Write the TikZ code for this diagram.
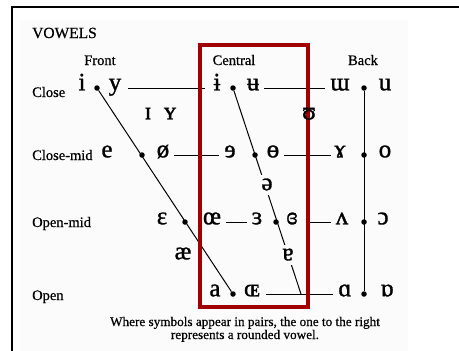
\documentclass[tikz,border=0pt]{standalone}
\usepackage{fontspec}
\setmainfont{Liberation Serif}
\newfontfamily\symfont[FakeBold=1.2]{Liberation Serif}
\newfontfamily\labfont[FakeBold=0.6]{Liberation Serif}
\definecolor{bgc}{RGB}{251,251,251}
\definecolor{boxred}{RGB}{160,0,0}
\begin{document}
\begin{tikzpicture}[x=1pt,y=-1pt,
  sym/.style={font=\symfont\fontsize{25}{27}\selectfont, inner sep=0pt, anchor=mid},
  lab/.style={font=\labfont\fontsize{14.5}{16}\selectfont, inner sep=0pt, anchor=base west},
  hdr/.style={font=\labfont\fontsize{14.5}{16}\selectfont, inner sep=0pt, anchor=base},
  captext/.style={font=\labfont\fontsize{13.2}{15}\selectfont, inner sep=0pt, anchor=base},
  dotnode/.style={circle, fill=black, inner sep=0pt, minimum size=5.5pt},
  link/.style={line width=1pt},
  gapsym/.style={sym, fill=bgc, inner sep=4pt}]
\useasboundingbox (0,0) rectangle (459,351);
\fill[bgc] (20,20) rectangle (408,351);
\draw[line width=1.5pt] (12,352) -- (12,7) -- (460,7);

% title and headers
\node[lab, font=\labfont\fontsize{15.5}{17}\selectfont] (title) at (32,38) {VOWELS};
\node[hdr] (front) at (100,65) {Front};
\node[hdr] (central) at (234,65) {Central};
\node[hdr] (back) at (363,65) {Back};

% row labels
\node[lab] (lclose) at (32,97) {Close};
\node[lab] (lclosemid) at (32,160) {Close-mid};
\node[lab] (lopenmid) at (32,227) {Open-mid};
\node[lab] (lopen) at (32,300) {Open};

% dots
\node[dotnode] (d1) at (97,88) {};
\node[dotnode] (d2) at (233,88) {};
\node[dotnode] (d3) at (364,88) {};
\node[dotnode] (d4) at (142,155) {};
\node[dotnode] (d5) at (255,155) {};
\node[dotnode] (d6) at (364,155) {};
\node[dotnode] (d7) at (185,222) {};
\node[dotnode] (d8) at (276,222) {};
\node[dotnode] (d9) at (364,222) {};
\node[dotnode] (d10) at (233,294) {};
\node[dotnode] (d11) at (364,294) {};
\coordinate (cend) at (301,294);

% symbols
\node[sym] (i) at (82,88) {i};
\node[sym] (y) at (115,88) {y};
\node[sym] (ibar) at (217,88) {ɨ};
\node[sym] (ubar) at (253,88) {ʉ};
\node[sym] (turnm) at (340,88) {ɯ};
\node[sym] (u) at (385,88) {u};
\node[sym] (smi) at (148,117) {ɪ};
\node[sym] (smy) at (170,117) {ʏ};
\node[sym] (e) at (107,155) {e};
\node[sym] (oslash) at (163,155) {ø};
\node[sym] (reve) at (230,155) {ɘ};
\node[sym] (obar) at (273,155) {ɵ};
\node[sym] (gam) at (340,155) {ɤ};
\node[sym] (o) at (385,155) {o};
\node[sym] (eps) at (162,222) {ɛ};
\node[sym] (oe) at (212,222) {œ};
\node[sym] (reveps) at (257,222) {ɜ};
\node[sym] (clrev) at (292,222) {ɞ};
\node[sym] (wedge) at (342,222) {ʌ};
\node[sym] (openo) at (383,222) {ɔ};
\node[sym] (ae) at (183,257) {æ};
\node[sym] (a) at (215,294) {a};
\node[sym] (smoe) at (252,294) {ɶ};
\node[sym] (alpha) at (345,294) {ɑ};
\node[sym] (turnalpha) at (387,294) {ɒ};

% horizontal connectors
\draw[link, shorten <=7pt, shorten >=8pt] (y.mid east) -- (ibar.mid west);
\draw[link, shorten <=5pt, shorten >=5pt] (ubar.mid east) -- (turnm.mid west);
\draw[link, shorten <=5pt, shorten >=5pt] (oslash.mid east) -- (reve.mid west);
\draw[link, shorten <=5pt, shorten >=3pt] (obar.mid east) -- (gam.mid west);
\draw[link, shorten <=5pt, shorten >=5pt] (oe.mid east) -- (reveps.mid west);
\draw[link, shorten <=8pt, shorten >=5pt] (clrev.mid east) -- (wedge.mid west);
\draw[link, shorten <=6pt, shorten >=5pt] (smoe.mid east) -- (alpha.mid west);

% slanted and vertical connectors
\draw[link] (d1) -- (d10);
\draw[link] (d2) -- (cend);
\draw[link] (d3) -- (d11);

% symbols interrupting the central line
\node[gapsym] (schwa) at (267,188) {ə};
\node[gapsym] (turna) at (288,258) {ɐ};

% central box
\draw[boxred, line width=4pt] (200,45) rectangle (308,307);
\node[sym] (smu) at (309,117) {ʊ};

% caption
\node[captext] (cap1) at (245,326) {Where symbols appear in pairs, the one to the right};
\node[captext] (cap2) at (245,339) {represents a rounded vowel.};
\end{tikzpicture}
\end{document}
